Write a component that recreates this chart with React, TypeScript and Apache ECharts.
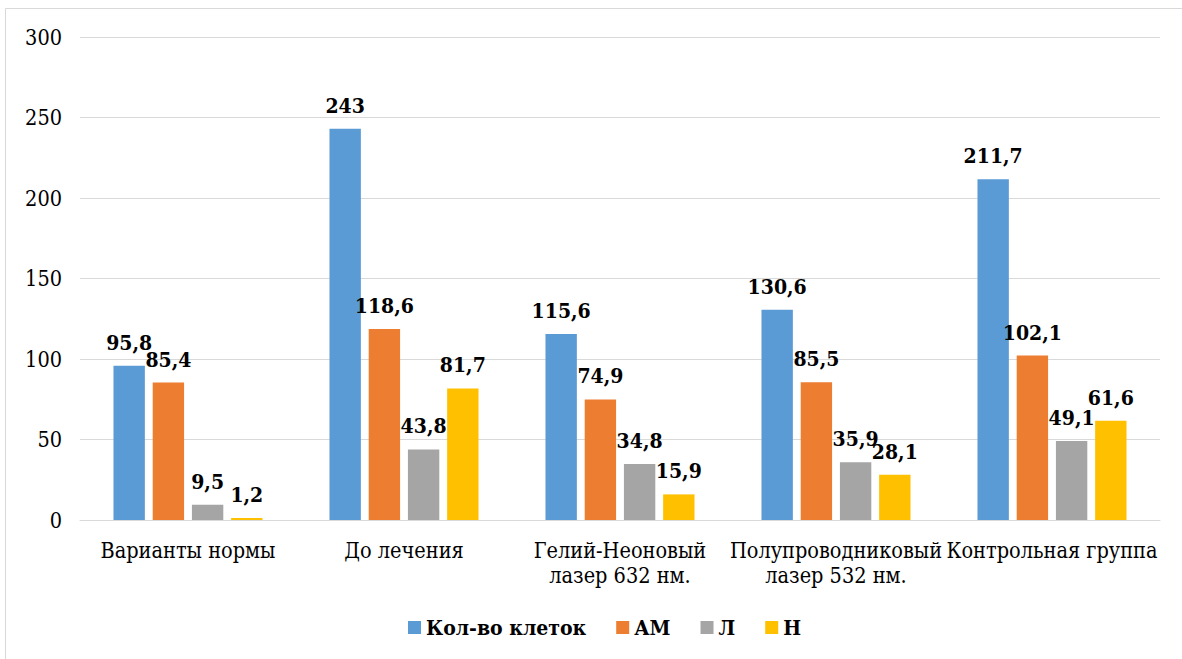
import React, { useEffect, useRef } from "react";
import * as echarts from "echarts";

const categories = [
  "Варианты нормы",
  "До лечения",
  "Гелий-Неоновый\nлазер 632 нм.",
  "Полупроводниковый\nлазер 532 нм.",
  "Контрольная группа",
];

const seriesNames = ["Кол-во клеток", "АМ", "Л", "Н"];
const cellCount = [95.8, 243, 115.6, 130.6, 211.7];
const amValues = [85.4, 118.6, 74.9, 85.5, 102.1];
const lValues = [9.5, 43.8, 34.8, 35.9, 49.1];
const nValues = [1.2, 81.7, 15.9, 28.1, 61.6];
const seriesColors = ["#5B9BD5", "#ED7D31", "#A5A5A5", "#FFC000"];
const yTicks = { min: 0, max: 300, interval: 50 };

const FONT = "DejaVu Serif Condensed";

export default function App() {
  const ref = useRef<HTMLDivElement>(null);

  useEffect(() => {
    if (!ref.current) return;
    const chart = echarts.init(ref.current, undefined, { renderer: "svg" });
    const values = [cellCount, amValues, lValues, nValues];

    const series = values.map((data, i) => ({
      name: seriesNames[i],
      type: "bar" as const,
      data,
      barGap: "25%",
      barCategoryGap: "31%",
      itemStyle: { color: seriesColors[i] },
      label: {
        show: true,
        position: "top" as const,
        distance: 13,
        fontFamily: FONT,
        fontWeight: "bold" as const,
        fontSize: 21,
        color: "#000",
        formatter: (p: any) => String(p.value).replace(".", ","),
      },
    }));

    chart.setOption({
      animation: false,
      textStyle: { fontFamily: FONT },
      graphic: [
        {
          type: "rect",
          shape: { x: 5.5, y: 8.5, width: 1200, height: 700 },
          style: { fill: "none", stroke: "#D9D9D9", lineWidth: 1 },
          silent: true,
        },
        {
          type: "text",
          x: 56,
          y: -10,
          style: {
            text: "описания.",
            font: "21px 'DejaVu Serif Condensed'",
            fill: "#000",
            align: "right",
            verticalAlign: "middle",
          },
        },
      ],
      grid: { left: 80, right: 22, top: 37, bottom: 139, containLabel: false },
      legend: {
        left: 408,
        top: 617,
        padding: 0,
        itemWidth: 13,
        itemHeight: 13,
        itemGap: 30,
        icon: "rect",
        textStyle: {
          fontFamily: FONT,
          fontSize: 21,
          fontWeight: "bold",
          color: "#000",
        },
        data: seriesNames,
      },
      xAxis: {
        type: "category",
        data: categories,
        axisLine: { show: true, lineStyle: { color: "#D9D9D9", width: 1 } },
        axisTick: { show: false },
        axisLabel: {
          interval: 0,
          margin: 18,
          fontFamily: FONT,
          fontSize: 21.5,
          lineHeight: 25,
          color: "#000",
        },
      },
      yAxis: {
        type: "value",
        min: yTicks.min,
        max: yTicks.max,
        interval: yTicks.interval,
        axisLine: { show: false },
        axisTick: { show: false },
        splitLine: { lineStyle: { color: "#D9D9D9", width: 1 } },
        axisLabel: {
          margin: 18,
          fontFamily: FONT,
          fontSize: 21.5,
          color: "#000",
        },
      },
      series,
    });

    return () => chart.dispose();
  }, []);

  return (
    <div
      ref={ref}
      style={{ position: "fixed", left: 0, top: 0, width: 1182, height: 659, background: "#fff" }}
    />
  );
}
